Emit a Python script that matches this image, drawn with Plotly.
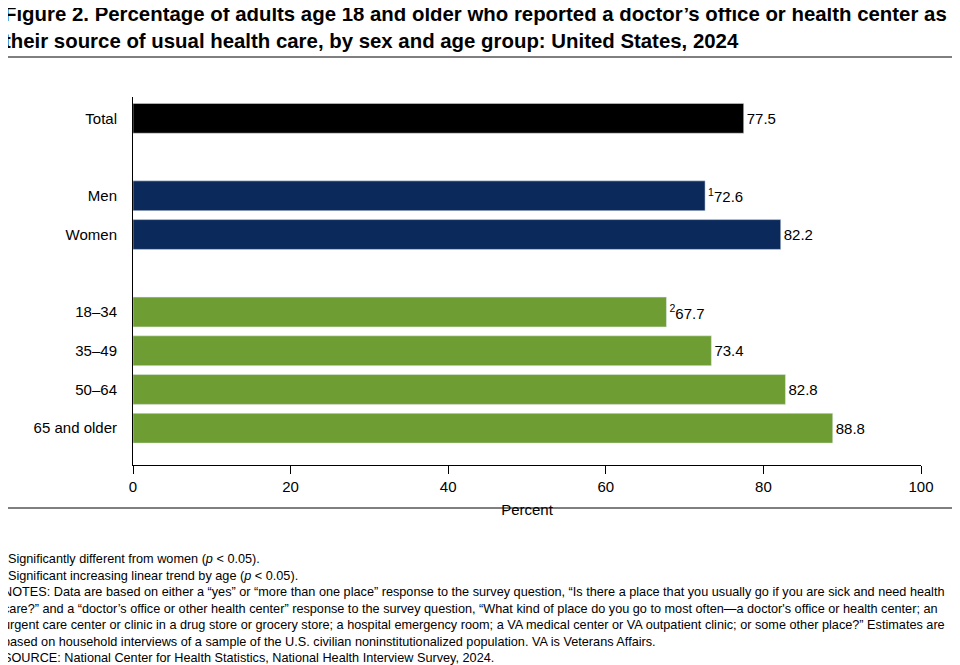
import plotly.graph_objects as go

categories = ["Total", " ", "Men", "Women", "  ", "18–34", "35–49", "50–64", "65 and older"]
values = [77.5, None, 72.6, 82.2, None, 67.7, 73.4, 82.8, 88.8]
footnote_marks = ["", "", "1", "", "", "2", "", "", ""]
colors = ["#000000", "#ffffff", "#0b2a5b", "#0b2a5b", "#ffffff", "#6e9e33", "#6e9e33", "#6e9e33", "#6e9e33"]
x_ticks = [0, 20, 40, 60, 80, 100]

labels = [("" if v is None else (f"<sup>{m}</sup>" if m else "") + f"{v:.1f}") for v, m in zip(values, footnote_marks)]

fig = go.Figure(go.Bar(
    y=categories, x=values, orientation="h", marker_color=colors, width=0.77,
    text=labels, textposition="outside", texttemplate="%{text}",
    textfont=dict(size=15, color="black"), cliponaxis=False, hoverinfo="skip"))

H = 368.0
# screen coordinates -> paper coordinates (plot spans screen x 133..921, y 97..465)
def py(px):
    return (465 - px) / H
def px_(x):
    return (x - 133) / 788.0

fig.update_layout(
    width=960, height=665, margin=dict(l=125, r=47, t=89, b=208),
    paper_bgcolor="white", plot_bgcolor="white", showlegend=False,
    font=dict(family="Arial, Liberation Sans", size=15, color="black"),
    xaxis=dict(range=[0, 100], tickvals=x_ticks, showline=True, linecolor="black", linewidth=1,
               ticks="outside", ticklen=8, tickcolor="black", showgrid=False, zeroline=False,
               title=dict(text="Percent", font=dict(size=15), standoff=10)),
    yaxis=dict(type="category", categoryarray=categories, range=[8.95, -0.55], showline=True,
               linecolor="black", linewidth=1, ticks="", showgrid=False, ticklabelstandoff=12),
    shapes=[dict(type="rect", xref="paper", yref="paper", x0=px_(2), x1=px_(957), y0=py(508), y1=py(57),
                 line=dict(color="black", width=1))],
    annotations=[
        dict(xref="paper", yref="paper", x=px_(2), y=py(1), xanchor="left", yanchor="top", align="left",
             showarrow=False, font=dict(size=20.4, color="black", family="Arial, Liberation Sans"),
             text="<b>Figure 2. Percentage of adults age 18 and older who reported a doctor’s office or health center as<br>their source of usual health care, by sex and age group: United States, 2024</b>"),
        dict(xref="paper", yref="paper", x=px_(1), y=py(548), xanchor="left", yanchor="top", align="left",
             showarrow=False, font=dict(size=12.7, color="black", family="Arial, Liberation Sans"),
             text=("<sup>1</sup>Significantly different from women (<i>p</i> &lt; 0.05).<br>"
                   "<sup>2</sup>Significant increasing linear trend by age (<i>p</i> &lt; 0.05).<br>"
                   "NOTES: Data are based on either a “yes” or “more than one place” response to the survey question, “Is there a place that you usually go if you are sick and need health<br>"
                   "care?” and a “doctor’s office or other health center” response to the survey question, “What kind of place do you go to most often—a doctor's office or health center; an<br>"
                   "urgent care center or clinic in a drug store or grocery store; a hospital emergency room; a VA medical center or VA outpatient clinic; or some other place?” Estimates are<br>"
                   "based on household interviews of a sample of the U.S. civilian noninstitutionalized population. VA is Veterans Affairs.<br>"
                   "SOURCE: National Center for Health Statistics, National Health Interview Survey, 2024.")),
    ])

fig.write_html("out.html")
